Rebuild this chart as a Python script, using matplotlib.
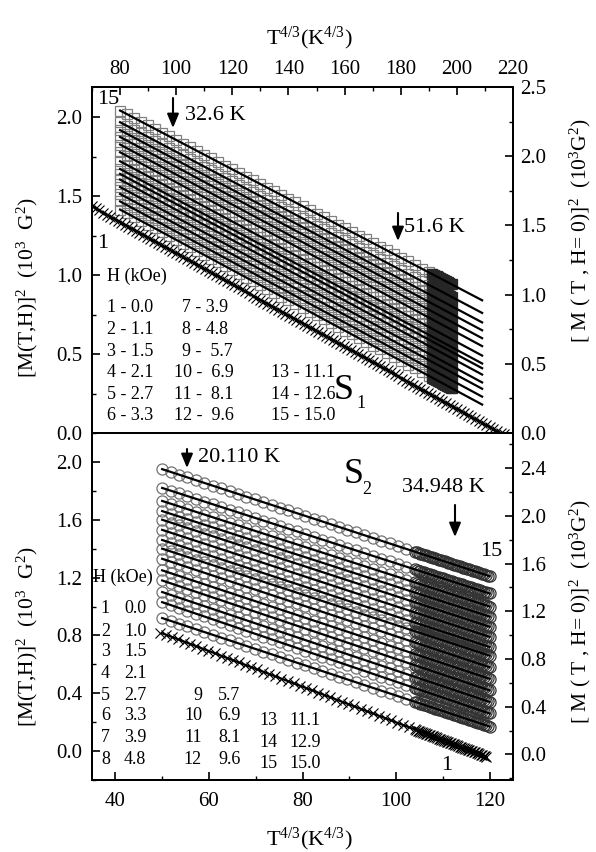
import numpy as np
import matplotlib
matplotlib.use("Agg")
import matplotlib.pyplot as plt
from matplotlib.ticker import MultipleLocator, FormatStrFormatter

plt.rcParams['font.family'] = ['Liberation Serif', 'DejaVu Serif']
plt.rcParams['mathtext.fontset'] = 'custom'
plt.rcParams['mathtext.rm'] = 'Liberation Serif'
plt.rcParams['mathtext.it'] = 'Liberation Serif:italic'
plt.rcParams['mathtext.bf'] = 'Liberation Serif:bold'

# ---------------- data: S1 (top panel, top axis T^{4/3}) ----------------
s1_fields = ["0.0", "1.1", "1.5", "2.1", "2.7", "3.3", "3.9", "4.8", "5.7",
             "6.9", "8.1", "9.6", "11.1", "12.6", "15.0"]
# fit lines of curves 2..15: value at T^{4/3}=80 and at 209
s1_line_x = [80, 209]
s1_y_start = [1.414, 1.466, 1.513, 1.557, 1.604, 1.640, 1.671, 1.720,
              1.777, 1.826, 1.874, 1.917, 1.967, 2.041]
s1_y_end = [0.18, 0.23, 0.28, 0.32, 0.37, 0.41, 0.44, 0.49,
            0.55, 0.60, 0.65, 0.70, 0.76, 0.84]
# measured T^{4/3} grid (sparse, then dense near Tc)
s1_x_sparse = list(np.arange(80, 191, 2.5))
s1_x_dense = list(np.arange(191, 198.3, 0.3))
# curve 1 (H = 0)
s1_c1_x = [70, 216]
s1_c1_y = [1.434, -0.005]
s1_c1_meas = list(np.arange(70, 217, 1.3))

# ---------------- data: S2 (bottom panel) ----------------
s2_fields = ["0.0", "1.0", "1.5", "2.1", "2.7", "3.3", "3.9", "4.8", "5.7",
             "6.9", "8.1", "9.6", "11.1", "12.9", "15.0"]
s2_line_x = [50, 120]
s2_y_start = [0.92, 1.03, 1.10, 1.18, 1.25, 1.33, 1.40, 1.46,
              1.53, 1.60, 1.66, 1.73, 1.82, 1.95]
s2_y_end = [0.17, 0.26, 0.34, 0.42, 0.50, 0.58, 0.66, 0.72,
            0.79, 0.86, 0.93, 1.00, 1.09, 1.21]
s2_x_sparse = list(np.arange(50, 104, 1.8))
s2_x_dense = list(np.arange(104, 120.2, 0.4))
s2_c1_x = [50, 119.4]
s2_c1_y = [0.815, -0.04]
s2_c1_meas = list(np.arange(49.5, 104, 1.3)) + list(np.arange(104, 119.6, 0.3))

W, H = 596, 852
fig = plt.figure(figsize=(W / 100, H / 100), dpi=100)


def P(x, y):
    return (x / W, 1 - y / H)


ax1 = fig.add_axes([92 / W, 1 - 433 / H, 421 / W, 346 / H])
ax2 = fig.add_axes([92 / W, 1 - 780 / H, 421 / W, 347 / H])

# ---- top panel ----
for ys, ye in zip(s1_y_start, s1_y_end):
    xs = np.array(s1_x_sparse)
    ax1.plot(xs, np.interp(xs, s1_line_x, [ys, ye]), ls='none', marker='s', ms=6.5,
             mfc='none', mec='0.5', mew=0.9, zorder=2)
    xs = np.array(s1_x_dense)
    ax1.plot(xs, np.interp(xs, s1_line_x, [ys, ye]), ls='none', marker='s', ms=6.5,
             mfc='none', mec='0.15', mew=0.9, zorder=2)
for ys, ye in zip(s1_y_start, s1_y_end):
    ax1.plot(s1_line_x, [ys, ye], color='k', lw=1.6, zorder=3)
xs = np.array(s1_c1_meas)
ax1.plot(xs, np.interp(xs, s1_c1_x, s1_c1_y), ls='none', marker='x', ms=7, mec='k', mew=0.8, zorder=2)
ax1.plot(s1_c1_x, s1_c1_y, color='k', lw=1.6, zorder=3)

ax1.set_xlim(70, 220)
ax1.set_ylim(0, 2.19)
ax1.xaxis.tick_top()
ax1.xaxis.set_major_locator(MultipleLocator(20))
ax1.xaxis.set_minor_locator(MultipleLocator(10))
ax1.yaxis.set_major_locator(MultipleLocator(0.5))
ax1.yaxis.set_minor_locator(MultipleLocator(0.25))
ax1.yaxis.set_major_formatter(FormatStrFormatter('%.1f'))
ax1.tick_params(axis='x', which='both', direction='in', top=True, bottom=False,
                labeltop=True, labelbottom=False, labelsize=15, pad=6)
ax1.tick_params(axis='y', which='both', direction='in', left=True, right=False,
                labelsize=15, pad=7)
ax1r = ax1.twinx()
ax1r.set_ylim(0, 2.5)
ax1r.yaxis.set_major_locator(MultipleLocator(0.5))
ax1r.yaxis.set_minor_locator(MultipleLocator(0.25))
ax1r.yaxis.set_major_formatter(FormatStrFormatter('%.1f'))
ax1r.tick_params(axis='y', which='both', direction='in', labelsize=15, pad=5)

# ---- bottom panel ----
for ys, ye in zip(s2_y_start, s2_y_end):
    xs = np.array(s2_x_sparse)
    ax2.plot(xs, np.interp(xs, s2_line_x, [ys, ye]), ls='none', marker='o', ms=8,
             mfc='none', mec='0.45', mew=0.9, zorder=2)
    xs = np.array(s2_x_dense)
    ax2.plot(xs, np.interp(xs, s2_line_x, [ys, ye]), ls='none', marker='o', ms=8,
             mfc='none', mec='0.2', mew=0.9, zorder=2)
for ys, ye in zip(s2_y_start, s2_y_end):
    ax2.plot(s2_line_x, [ys, ye], color='k', lw=1.6, zorder=3)
xs = np.array(s2_c1_meas)
ax2.plot(xs, np.interp(xs, s2_c1_x, s2_c1_y), ls='none', marker='x', ms=7, mec='k', mew=0.8, zorder=2)
ax2.plot(s2_c1_x, s2_c1_y, color='k', lw=1.6, zorder=3)

ax2.set_xlim(35, 125)
ax2.set_ylim(-0.2, 2.2)
ax2.xaxis.set_major_locator(MultipleLocator(20))
ax2.xaxis.set_minor_locator(MultipleLocator(10))
ax2.yaxis.set_major_locator(MultipleLocator(0.4))
ax2.yaxis.set_minor_locator(MultipleLocator(0.2))
ax2.yaxis.set_major_formatter(FormatStrFormatter('%.1f'))
ax2.tick_params(axis='x', which='both', direction='in', top=False, bottom=True,
                labelsize=15, pad=9)
ax2.tick_params(axis='y', which='both', direction='in', left=True, right=False,
                labelsize=15, pad=7)
ax2r = ax2.twinx()
ax2r.set_ylim(-0.215, 2.696)
ax2r.set_yticks([0.0, 0.4, 0.8, 1.2, 1.6, 2.0, 2.4])
ax2r.yaxis.set_minor_locator(MultipleLocator(0.2))
ax2r.yaxis.set_major_formatter(FormatStrFormatter('%.1f'))
ax2r.tick_params(axis='y', which='both', direction='in', labelsize=15, pad=5)

for a in (ax1, ax2, ax1r, ax2r):
    for s in a.spines.values():
        s.set_linewidth(1.4)
    a.tick_params(which='major', length=6, width=1.2)
    a.tick_params(which='minor', length=3, width=1.0)

# ---- axis labels ----
fig.text(*P(309, 44), r'T$^{4/3}$(K$^{4/3}$)', fontsize=16, ha='center', va='baseline')
fig.text(*P(309, 845), r'T$^{4/3}$(K$^{4/3}$)', fontsize=16, ha='center', va='baseline')
ylab_l = r'[M(T,H)]$^{2}$  (10$^{3}$  G$^{2}$)'
ylab_r = r'[ M ( T , H= 0)]$^{2}$  (10$^{3}$G$^{2}$)'
fig.text(*P(27, 288), ylab_l, fontsize=15.5, rotation=90, ha='center', va='center')
fig.text(*P(27, 637), ylab_l, fontsize=15.5, rotation=90, ha='center', va='center')
fig.text(*P(580, 231), ylab_r, fontsize=15.5, rotation=90, ha='center', va='center')
fig.text(*P(580, 612), ylab_r, fontsize=15.5, rotation=90, ha='center', va='center')

# ---- arrows + temperature labels ----
def arrow(x, y0, y1):
    fig.add_artist(matplotlib.patches.FancyArrowPatch(
        P(x, y0), P(x, y1), transform=fig.transFigure,
        arrowstyle='-|>,head_length=0.6,head_width=0.25', mutation_scale=14,
        color='k', lw=1.5, shrinkA=0, shrinkB=0))

arrow(173, 98, 128)
fig.text(*P(185, 116), '32.6 K', fontsize=16, ha='left', va='center')
arrow(398, 213, 241)
fig.text(*P(404, 228), '51.6 K', fontsize=16, ha='left', va='center')
arrow(187, 449, 468)
fig.text(*P(198, 457), '20.110 K', fontsize=16, ha='left', va='center')
arrow(455, 505, 537)
fig.text(*P(402, 487), '34.948 K', fontsize=16, ha='left', va='center')

fig.text(*P(108, 100), '15', fontsize=16, ha='center', va='center')
fig.text(*P(103, 243), '1', fontsize=16, ha='center', va='center')
fig.text(*P(491, 552), '15', fontsize=16, ha='center', va='center')
fig.text(*P(447, 765), '1', fontsize=16, ha='center', va='center')

fig.text(*P(344, 390), 'S', fontsize=26, ha='center', va='center')
fig.text(*P(361, 404), '1', fontsize=13, ha='center', va='center')
fig.text(*P(354, 474), 'S', fontsize=26, ha='center', va='center')
fig.text(*P(367, 490), '2', fontsize=13, ha='center', va='center')

# ---- legends (text tables) ----
fs = 13
fig.text(*P(107, 276), 'H (kOe)', fontsize=fs, ha='left', va='center')
rows_top = [307.7, 330, 351.7, 372.7, 394.3, 415.7]
for i in range(6):
    fig.text(*P(107, rows_top[i]), f'{i+1} - {s1_fields[i]}', fontsize=fs, ha='left', va='center')
for i in range(6, 12):
    xl = 182 if i < 9 else 174
    lab = f'{i+1} -  {s1_fields[i]}' if i >= 8 else f'{i+1} - {s1_fields[i]}'
    fig.text(*P(xl, rows_top[i - 6]), lab, fontsize=fs, ha='left', va='center')
for i in range(12, 15):
    fig.text(*P(271, rows_top[i - 9]), f'{i+1} - {s1_fields[i]}', fontsize=fs, ha='left', va='center')

fig.text(*P(93, 577), 'H (kOe)', fontsize=fs, ha='left', va='center')
rows_b1 = [608.3, 631, 651.7, 673.3, 695, 716, 737.3, 759.3]
for i in range(8):
    fig.text(*P(110, rows_b1[i]), f'{i+1}', fontsize=fs, ha='right', va='center')
    fig.text(*P(124, rows_b1[i]), s2_fields[i], fontsize=fs, ha='left', va='center')
rows_b2 = [695, 716, 737.3, 759.3]
for i in range(8, 12):
    fig.text(*P(202, rows_b2[i - 8]), f'{i+1}', fontsize=fs, ha='right', va='center')
    fig.text(*P(218, rows_b2[i - 8]), s2_fields[i], fontsize=fs, ha='left', va='center')
rows_b3 = [720.7, 742.3, 763.3]
for i in range(12, 15):
    fig.text(*P(278, rows_b3[i - 12]), f'{i+1}', fontsize=fs, ha='right', va='center')
    fig.text(*P(289, rows_b3[i - 12]), s2_fields[i], fontsize=fs, ha='left', va='center')

fig.savefig('out.png', dpi=100)
